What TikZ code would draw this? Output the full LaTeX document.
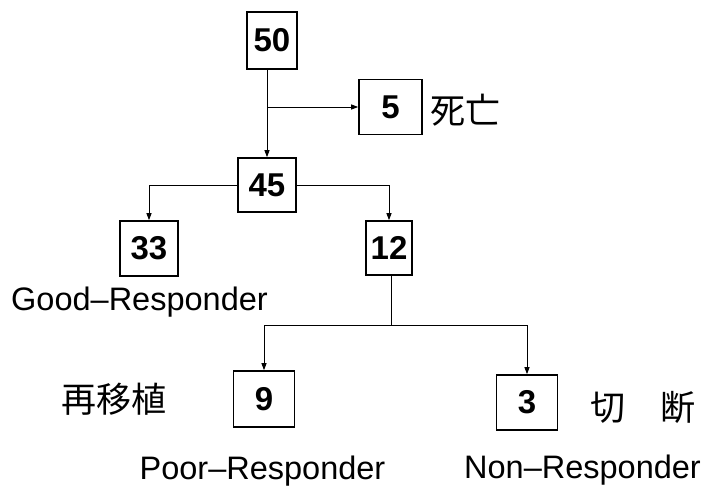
\documentclass[tikz,border=0pt]{standalone}
\usepackage{fontspec}
\setmainfont{Liberation Sans}
\newfontfamily\jp{Noto Sans CJK JP}
\usetikzlibrary{arrows.meta}
\begin{document}
\begin{tikzpicture}[x=1pt,y=-1pt,
  numbox/.style={draw,line width=1.6pt,inner sep=0pt,minimum width=58pt,minimum height=55pt,
    font=\fontsize{33}{38}\selectfont\bfseries},
  conn/.style={line width=0.9pt},
  arr/.style={conn,-{Triangle[length=7pt,width=5pt]}},
  lat/.style={inner sep=0pt,font=\fontsize{32.5}{38}\selectfont},
  jtxt/.style={inner sep=0pt,font=\fontsize{35}{40}\selectfont\jp}]
\useasboundingbox (0,0) rectangle (709,490);
% boxes
\node[numbox,minimum width=50pt,minimum height=57pt] (n50) at (272,40.5) {50};
\node[numbox,minimum width=63pt] (n5) at (390.5,107) {5};
\node[numbox,minimum height=54pt] (n45) at (267,185) {45};
\node[numbox] (n33) at (149,248.5) {33};
\node[numbox,minimum width=46pt,minimum height=54pt] (n12) at (389,248) {12};
\node[numbox,minimum width=61pt,minimum height=56pt] (n9) at (264,399) {9};
\node[numbox,minimum width=61pt] (n3) at (527,402.5) {3};
% labels
\node[jtxt] (l5) at (465,110) {死亡};
\node[lat] (lgood) at (139.5,302) {Good–Responder};
\node[jtxt] (lre) at (114,399) {再移植};
\node[jtxt] (lcut) at (643,407) {切　断};
\node[lat] (lpoor) at (262.5,471) {Poor–Responder};
\node[lat] (lnon) at (582.5,470) {Non–Responder};
% connectors
\draw[arr] (n45.north |- n50.south) -- (n45.north);
\draw[arr] (n45.north |- n5.west) -- (n5.west);
\draw[arr] (n45.west) -| (n33.north);
\draw[arr] (n45.east) -| (n12.north);
\coordinate (j) at (391,325);
\draw[conn] (n12.south -| j) -- (j);
\draw[arr] (j) -| (n9.north);
\draw[arr] (j) -| (n3.north);
\end{tikzpicture}
\end{document}
